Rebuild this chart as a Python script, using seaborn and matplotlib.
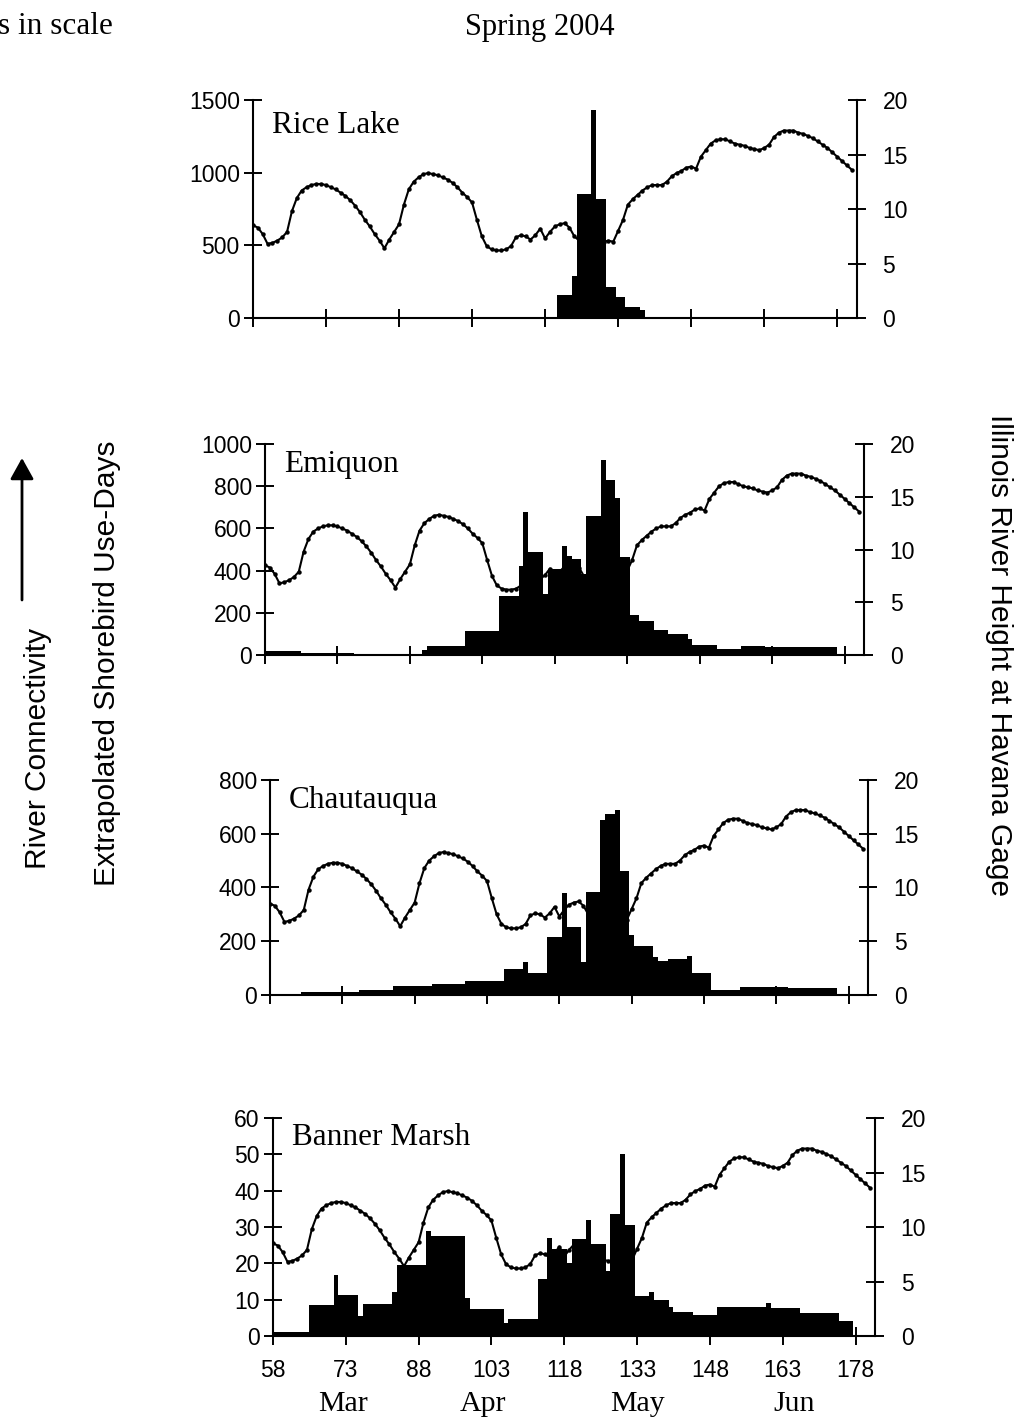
import numpy as np
import pandas as pd
import matplotlib
matplotlib.use("Agg")
import matplotlib.pyplot as plt
import matplotlib.transforms as mtransforms
from matplotlib.patches import FancyArrowPatch
import seaborn as sns

# ------------------------------------------------------------------ data
first_day = 58
last_day = 181

# Illinois River height at Havana gage (daily, day 58 .. 181)
river_height = [
    8.5, 8.3, 7.7, 6.8, 6.9, 7.1, 7.4, 7.9, 9.8, 11.0,
    11.7, 12.0, 12.2, 12.3, 12.3, 12.2, 12.0, 11.8, 11.5, 11.2,
    10.8, 10.3, 9.7, 9.0, 8.4, 7.7, 7.1, 6.4, 7.2, 7.9,
    8.6, 10.4, 11.8, 12.5, 12.9, 13.2, 13.3, 13.2, 13.1, 12.9,
    12.7, 12.4, 12.0, 11.5, 11.1, 10.6, 9.0, 7.5, 6.6, 6.3,
    6.2, 6.2, 6.3, 6.6, 7.4, 7.6, 7.5, 7.2, 7.6, 8.2,
    7.3, 7.9, 8.4, 8.6, 8.7, 8.3, 7.5, 7.1, 7.0, 6.9,
    6.9, 7.0, 7.0, 7.1, 7.0, 8.0, 9.0, 10.4, 10.9, 11.3,
    11.7, 12.0, 12.2, 12.2, 12.2, 12.5, 13.0, 13.3, 13.5, 13.8,
    13.9, 13.7, 14.8, 15.4, 16.0, 16.3, 16.4, 16.4, 16.2, 16.0,
    15.9, 15.8, 15.6, 15.5, 15.4, 15.6, 15.9, 16.6, 17.0, 17.2,
    17.2, 17.2, 17.0, 16.9, 16.7, 16.5, 16.2, 15.9, 15.6, 15.2,
    14.8, 14.4, 14.0, 13.6,
]

# extrapolated shorebird use-days: survey-interval values and their run lengths (days)
rice_values = [10, 0, 155, 290, 856, 1430, 820, 215, 143, 75, 55, 0]
rice_runs = [1, 62, 3, 1, 3, 1, 2, 2, 2, 3, 1, 43]

emiquon_values = [18, 12, 2, 4, 23, 42, 112, 278, 420, 680, 490, 290, 410, 515,
                  470, 455, 385, 660, 925, 830, 745, 465, 190, 160, 120, 100,
                  75, 50, 30, 45, 36, 36, 0]
emiquon_runs = [8, 11, 9, 5, 1, 8, 7, 4, 1, 1, 3, 1, 3, 1,
                1, 2, 1, 3, 1, 2, 1, 2, 2, 3, 3, 4,
                1, 5, 5, 5, 7, 8, 5]

chautauqua_values = [0, 10, 18, 35, 40, 52, 98, 124, 82, 215, 380, 252, 124, 385,
                     650, 672, 690, 460, 225, 183, 143, 127, 133, 145, 82, 20,
                     28, 25, 0]
chautauqua_runs = [7, 12, 7, 8, 7, 8, 4, 1, 4, 3, 1, 3, 1, 3,
                   1, 2, 1, 2, 1, 4, 1, 2, 4, 1, 4, 6,
                   10, 10, 6]

banner_values = [1, 8.6, 16.9, 11.4, 5.5, 8.8, 12, 19.5, 29, 27.5, 10.5, 7.5,
                 3.7, 4.8, 15.8, 27, 24, 20, 26.7, 32, 25.3, 18, 33.7, 50, 30.5,
                 11, 12.2, 10, 7.9, 6.5, 5.8, 8.1, 9, 7.7, 6.3, 4, 0]
banner_runs = [8, 5, 1, 4, 1, 6, 1, 6, 1, 7, 1, 7,
               1, 6, 2, 1, 3, 1, 3, 1, 3, 1, 2, 1, 2,
               3, 1, 3, 1, 4, 5, 10, 1, 6, 8, 3, 4]

site_names = ["Rice Lake", "Emiquon", "Chautauqua", "Banner Marsh"]
left_ticks = [[0, 500, 1000, 1500],
              [0, 200, 400, 600, 800, 1000],
              [0, 200, 400, 600, 800],
              [0, 10, 20, 30, 40, 50, 60]]
right_ticks = [0, 5, 10, 15, 20]
x_ticks = [58, 73, 88, 103, 118, 133, 148, 163, 178]
month_labels = ["Mar", "Apr", "May", "Jun"]
month_positions = [72.4, 101.2, 133.1, 165.4]

# ------------------------------------------------------------------ style
sns.set_theme(style="ticks", rc={
    "axes.edgecolor": "black", "xtick.color": "black", "ytick.color": "black",
    "text.color": "black", "axes.labelcolor": "black",
})
plt.rcParams["font.family"] = ["Liberation Sans", "DejaVu Sans"]
SERIF = ["Liberation Serif", "DejaVu Serif"]

W, H = 1025, 1421
fig = plt.figure(figsize=(W / 100, H / 100), dpi=100)
fig.patch.set_facecolor("white")

positions = [[0.2468, 0.7762, 0.5890, 0.1534],
             [0.2585, 0.5390, 0.5844, 0.1485],
             [0.2634, 0.2998, 0.5834, 0.1513],
             [0.2663, 0.0598, 0.5873, 0.1534]]
title_y = [0.885, 0.905, 0.905, 0.91]

bird_data = [(rice_values, rice_runs), (emiquon_values, emiquon_runs),
             (chautauqua_values, chautauqua_runs), (banner_values, banner_runs)]

days = np.arange(first_day, last_day + 1)
line_df = pd.DataFrame({"day": days, "height": river_height})

axes = []
for i, (name, (vals, runs), lt, pos) in enumerate(zip(site_names, bird_data, left_ticks, positions)):
    ax = fig.add_axes(pos)
    ax2 = ax.twinx()
    # line behind the bars
    ax.set_zorder(2)
    ax2.set_zorder(1)
    ax.patch.set_visible(False)

    df = pd.DataFrame({"day": days, "birds": np.repeat(vals, runs)})
    sns.barplot(data=df, x="day", y="birds", native_scale=True, width=1.0,
                color="black", saturation=1, errorbar=None, linewidth=0, ax=ax)
    sns.lineplot(data=line_df, x="day", y="height", ax=ax2, color="black",
                 linewidth=1.5, marker="o", markersize=3.2, markeredgewidth=0,
                 errorbar=None)

    ax.set_xlim(58, 182)
    ax.set_ylim(0, lt[-1])
    ax2.set_ylim(0, 20)
    ax.set_xticks(x_ticks)
    ax.set_yticks(lt)
    ax2.set_yticks(right_ticks)
    ax.set_xlabel("")
    ax.set_ylabel("")
    ax2.set_xlabel("")
    ax2.set_ylabel("")

    for s in ["top", "right"]:
        ax.spines[s].set_visible(False)
    for s in ["top", "left", "bottom"]:
        ax2.spines[s].set_visible(False)
    for s in ["left", "bottom"]:
        ax.spines[s].set_linewidth(1.5)
    ax2.spines["right"].set_linewidth(1.5)

    ax.tick_params(axis="both", direction="inout", length=13, width=1.4,
                   labelsize=16.5, colors="black")
    ax.tick_params(axis="y", pad=3)
    ax.tick_params(axis="x", pad=10, labelbottom=(i == 3))
    ax2.tick_params(axis="y", direction="inout", length=13, width=1.4,
                    labelsize=16.5, pad=12, colors="black")

    ax.text(0.032, title_y[i], name, transform=ax.transAxes, fontsize=22.5,
            family=SERIF, va="center", ha="left")
    axes.append(ax)

# month labels under the bottom panel
axb = axes[-1]
trans = mtransforms.blended_transform_factory(axb.transData, axb.transAxes)
for lab, pos in zip(month_labels, month_positions):
    axb.text(pos, -0.31, lab, transform=trans, ha="center", va="center",
             fontsize=21.5, family=SERIF)

# figure texts
fig.text(-2 / W, 1 - 27 / H, "s in scale", ha="left", va="center",
         fontsize=22.5, family=SERIF)
fig.text(540 / W, 1 - 27 / H, "Spring 2004", ha="center", va="center",
         fontsize=22, family=SERIF)
fig.text(107 / W, 1 - 663 / H, "Extrapolated Shorebird Use-Days", rotation=90,
         ha="center", va="center", fontsize=21.5)
fig.text(38 / W, 1 - 748 / H, "River Connectivity", rotation=90,
         ha="center", va="center", fontsize=21.5)
fig.text(999 / W, 1 - 655 / H, "Illinois River Height at Havana Gage", rotation=270,
         ha="center", va="center", fontsize=21.5)

arrow = FancyArrowPatch(posA=(22 / W, 1 - 600 / H), posB=(22 / W, 1 - 458 / H),
                        transform=fig.transFigure,
                        arrowstyle="-|>,head_length=0.9,head_width=0.5",
                        mutation_scale=14.4, lw=2, color="black",
                        shrinkA=0, shrinkB=0)
fig.patches.append(arrow)

fig.savefig("out.png", dpi=100, facecolor="white")
